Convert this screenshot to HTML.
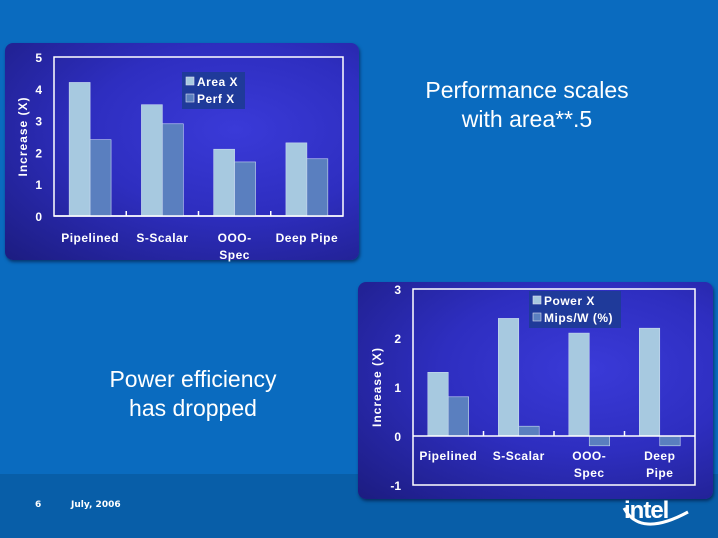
<!DOCTYPE html>
<html><head><meta charset="utf-8"><style>
body{margin:0;width:718px;height:538px;overflow:hidden;background:#0a6bbf;font-family:"Liberation Sans",sans-serif;position:relative}
.band{position:absolute;left:0;top:474px;width:718px;height:64px;background:#085ea8}
.panel{position:absolute;border-radius:8px;background:radial-gradient(ellipse at 65% 40%,#3a3ad8 0%,#2e2ec0 45%,#1c1c80 100%);box-shadow:1px 2px 3px rgba(0,0,30,.5)}
.t{position:absolute;color:#fff;text-align:center;font-size:23px;line-height:29px}
.f{position:absolute;color:#fff;font-family:"DejaVu Sans",sans-serif;font-weight:bold;font-size:9px}
</style></head><body>
<div class="band"></div>
<div class="panel" style="left:5px;top:43px;width:354px;height:217px"></div>
<div class="panel" style="left:358px;top:282px;width:355px;height:217px"></div>
<div class="t" style="left:377px;top:76px;width:300px">Performance scales<br>with area**.5</div>
<div class="t" style="left:43px;top:365px;width:300px">Power efficiency<br>has dropped</div>
<div class="f" style="left:35px;top:500px">6</div>
<div class="f" style="left:71px;top:500px">July, 2006</div>
<svg width="718" height="538" style="position:absolute;left:0;top:0" id="svg">
<g>
<text x="624" y="518" fill="#fff" font-family="Liberation Sans" font-weight="bold" font-size="24" letter-spacing="-1">intel</text>
<path d="M624 508 Q 640 538 688 512" stroke="#fff" stroke-width="3" fill="none"/>
</g>
</svg>
<script>
const NS="http://www.w3.org/2000/svg";
const svg=document.getElementById('svg');
const cats1=["Pipelined","S-Scalar","OOO-|Spec","Deep Pipe"];
const areaX=[4.2,3.5,2.1,2.3];
const perfX=[2.4,2.9,1.7,1.8];
const ticks1=[0,1,2,3,4,5];
const cats2=["Pipelined","S-Scalar","OOO-|Spec","Deep|Pipe"];
const powerX=[1.3,2.4,2.1,2.2];
const mipsW=[0.8,0.2,-0.2,-0.2];
const ticks2=[-1,0,1,2,3];
function el(t,a,txt){const e=document.createElementNS(NS,t);for(const k in a)e.setAttribute(k,a[k]);if(txt!==undefined)e.textContent=txt;svg.appendChild(e);return e;}
function chart(c){
  const y=v=>c.y0-(v-c.min)/(c.max-c.min)*(c.y0-c.y1);
  const bw=(c.x1-c.x0)/c.cats.length;
  let r=el('rect',{x:c.x0,y:c.y1,width:c.x1-c.x0,height:c.y0-c.y1,fill:'none',stroke:'#fff','stroke-width':1.5});
  
  
  c.ticks.forEach(t=>{
    const e=el('text',{x:c.x0-12,y:y(t)+5,fill:'#fff','font-size':12,'font-weight':'bold','text-anchor':'end'},t);
    
    
  });
  const zy=y(0);
  c.cats.forEach((cat,i)=>{
    const cx=c.x0+bw*(i+0.5);
    const w=bw*0.29;
    [[c.s1,'#a7c9e0'],[c.s2,'#5a7fbf']].forEach((s,j)=>{
      const v=s[0][i];const top=Math.min(y(v),zy);
      const b=el('rect',{x:cx-w+j*w,y:top,width:w,height:Math.abs(y(v)-zy),fill:s[1],stroke:'#c8d8f0','stroke-width':0.6});
      
      
    });
    if(i>0){const tk=el('line',{x1:c.x0+bw*i,x2:c.x0+bw*i,y1:zy,y2:zy-5,stroke:'#fff','stroke-width':1.5});
      
      }
    cat.split('|').forEach((ln,k)=>{
      const t=el('text',{x:cx,y:c.ly+k*17,fill:'#fff','font-size':12,'font-weight':'bold','text-anchor':'middle','letter-spacing':0.5},ln);
      
      
    });
  });
  const ax=el('line',{x1:c.x0,x2:c.x1,y1:zy,y2:zy,stroke:'#fff','stroke-width':1.5});
  
  
  const tt=el('text',{transform:`translate(${c.tx},${(c.y0+c.y1)/2}) rotate(-90)`,fill:'#fff','font-size':12,'font-weight':'bold','text-anchor':'middle','letter-spacing':1},'Increase (X)');
  
  
  const lg=el('rect',{x:c.lx,y:c.lyy,width:c.lw,height:37,fill:'#1f3a9a'});
  
  
  [[c.n1,'#a7c9e0'],[c.n2,'#5a7fbf']].forEach((s,j)=>{
    const sw=el('rect',{x:c.lx+4,y:c.lyy+5+j*17,width:8,height:8,fill:s[1],stroke:'#dde','stroke-width':0.6});
    
    
    const t=el('text',{x:c.lx+15,y:c.lyy+14+j*17,fill:'#fff','font-size':12,'font-weight':'bold','letter-spacing':0.5},s[0]);
    
    
  });
}
chart({id:'chart1',cats:cats1,s1:areaX,s2:perfX,n1:'Area X',n2:'Perf X',ticks:ticks1,min:0,max:5,x0:54,x1:343,y0:216,y1:57,ly:242,tx:27,lx:182,lyy:72,lw:63});
chart({id:'chart2',cats:cats2,s1:powerX,s2:mipsW,n1:'Power X',n2:'Mips/W (%)',ticks:ticks2,min:-1,max:3,x0:413,x1:695,y0:485,y1:289,ly:460,tx:381,lx:529,lyy:291,lw:92});
</script>
</body></html>
